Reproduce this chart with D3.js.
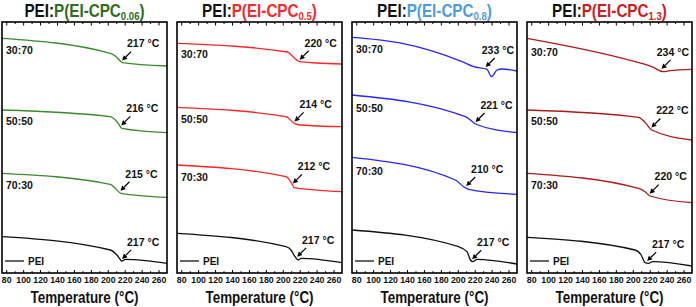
<!DOCTYPE html>
<html><head><meta charset="utf-8">
<script src="https://cdn.jsdelivr.net/npm/d3@7/dist/d3.min.js"></script>
<style>
body{margin:0;background:#fff}
text{font-family:"Liberation Sans",Arial,sans-serif;font-weight:bold}
</style>
</head><body>
<svg id="c" width="696" height="307"></svg>
<script>
// ---------- data ----------
const xTicks = [80,100,120,140,160,180,200,220,240,260];
const minorTicks = [90,110,130,150,170,190,210,230,250];
const samples = ["0.06","0.5","0.8","1.3"];
const ratios = ["30:70","50:50","70:30","PEI"];
const tgValues = [[217,216,215,217],[220,214,212,217],[233,221,210,217],[234,222,220,217]];
const curveColors = ["#3a8b2b","#ff2626","#2626ff","#ad1a1a"];
const titleColors = ["#2e6d1e","#f52a2a","#4d9be0","#cf1b22"];

// heat flow (a.u.) vs temperature (°C)
const p1_3070 = [[75,23.47],[203,21.97],[208.9,21.70],[214.8,21.20],[217.2,21.03],[270,20.70]];
const p1_5050 = [[75,16.30],[203,15.63],[210.9,15.13],[216.8,14.47],[270,14.03]];
const p1_7030 = [[75,9.97],[203,8.87],[208.9,8.47],[215.7,7.97],[270,7.57]];
const p1_pei  = [[75,3.63],[203,2.30],[210.9,1.80],[216.8,1.20],[220.7,1.37],[270,0.97]];

const p2_3070 = [[75,22.97],[205.7,22.10],[212.5,21.60],[219.6,21.13],[240.8,21.00],[270,20.90]];
const p2_5050 = [[75,16.57],[203.8,15.63],[213.6,14.97],[221.6,14.80],[270,14.63]];
const p2_7030 = [[75,10.80],[203.8,9.63],[210.5,8.97],[213.6,8.53],[270,8.13]];
const p2_pei  = [[75,3.97],[203.8,2.63],[209.7,2.30],[214.5,1.63],[218.4,1.30],[221.6,1.47],[270,1.03]];

const p3_3070 = [[75,23.57],[130.2,23.03],[205,21.13],[218.8,20.63],[234.6,20.37],[239.8,19.63],[246.4,20.30],[252.3,20.40],[270,20.20]];
const p3_5050 = [[75,17.80],[209,15.63],[218.8,15.03],[220.9,14.90],[270,14.03]];
const p3_7030 = [[75,11.57],[197.2,9.30],[207,8.63],[212.9,8.37],[270,7.87]];
const p3_pei  = [[75,4.30],[201.1,2.63],[210.9,2.13],[215,1.30],[217.7,1.13],[222.8,1.37],[270,0.90]];

const p4_3070 = [[75,23.47],[202.8,21.13],[222.5,20.63],[236.3,20.13],[244.1,20.23],[270,20.37]];
const p4_5050 = [[75,16.30],[206.8,15.57],[214.2,15.10],[222.5,14.30],[270,13.30]];
const p4_7030 = [[75,9.97],[206.8,8.47],[214.6,8.13],[220.5,7.70],[270,7.03]];
const p4_pei  = [[75,3.57],[202.8,2.30],[209.9,1.80],[214.6,1.03],[218.6,0.97],[223.3,1.13],[270,0.70]];

const curvesByPanel = [
  [p1_3070,p1_5050,p1_7030,p1_pei],
  [p2_3070,p2_5050,p2_7030,p2_pei],
  [p3_3070,p3_5050,p3_7030,p3_pei],
  [p4_3070,p4_5050,p4_7030,p4_pei]
];

// ---------- drawing ----------
const svg = d3.select("#c");
const W = 165, TOP = 22, BOT = 273;
const y = d3.scaleLinear().domain([0,25.1]).range([BOT,TOP]);
const bis = d3.bisector(d=>d[0]).left;
function valAt(c,t){
  let i = bis(c,t); if(i<=0) return c[0][1]; if(i>=c.length) return c[c.length-1][1];
  const a=c[i-1], b=c[i]; return a[1]+(b[1]-a[1])*(t-a[0])/(b[0]-a[0]);
}

samples.forEach((s,i)=>{
  const left = 2 + i*175;
  const x = d3.scaleLinear().domain([75,270]).range([left,left+W]);
  const g = svg.append("g");
  const line = d3.line().x(d=>x(d[0])).y(d=>y(d[1])).curve(d3.curveMonotoneX);

  curvesByPanel[i].forEach((c,j)=>{
    g.append("path").attr("d",line(c)).attr("fill","none")
      .attr("stroke", j<3?curveColors[i]:"#111").attr("stroke-width",1.3);
  });

  // axes (ticks inward)
  const bAx = g.append("g").attr("transform",`translate(0,${BOT})`)
    .call(d3.axisBottom(x).tickValues(xTicks).tickSizeInner(-3).tickSizeOuter(0).tickPadding(4));
  bAx.select(".domain").remove();
  bAx.selectAll("text").attr("font-size",8.8).attr("font-family",null).attr("fill","#111").attr("dy","0.72em");
  bAx.selectAll("line").attr("stroke","#000").attr("stroke-width",1);
  const bMin = g.append("g").attr("transform",`translate(0,${BOT})`)
    .call(d3.axisBottom(x).tickValues(minorTicks).tickSizeInner(-1.8).tickSizeOuter(0).tickFormat(""));
  bMin.select(".domain").remove();
  const tAx = g.append("g").attr("transform",`translate(0,${TOP})`)
    .call(d3.axisTop(x).tickValues(xTicks).tickSizeInner(-3.5).tickSizeOuter(0).tickFormat(""));
  tAx.select(".domain").remove();
  const tMin = g.append("g").attr("transform",`translate(0,${TOP})`)
    .call(d3.axisTop(x).tickValues(minorTicks).tickSizeInner(-2).tickSizeOuter(0).tickFormat(""));
  tMin.select(".domain").remove();

  g.append("rect").attr("x",left).attr("y",TOP).attr("width",W).attr("height",BOT-TOP)
    .attr("fill","none").attr("stroke","#000").attr("stroke-width",1.6);

  // ratio labels
  curvesByPanel[i].forEach((c,j)=>{
    if(j<3){
      g.append("text").attr("x",left+4).attr("y",y(valAt(c,95))+10).attr("dy","0.36em")
        .attr("font-size",10.5).attr("fill","#111").text(ratios[j]);
    }
    // Tg annotation
    const tg = tgValues[i][j];
    const hx = x(tg), hy = y(valAt(c,tg)) - 2;
    const tx = hx+9, ty = hy-9;
    const len = Math.hypot(tx-hx,ty-hy), ux=(hx-tx)/len, uy=(hy-ty)/len;
    const bx = hx-ux*5, by = hy-uy*5;
    g.append("line").attr("x1",tx).attr("y1",ty).attr("x2",bx).attr("y2",by).attr("stroke","#000").attr("stroke-width",1.2);
    g.append("path").attr("d",`M${hx},${hy}L${bx-uy*2.6},${by+ux*2.6}L${bx+uy*2.6},${by-ux*2.6}Z`).attr("fill","#000");
    const lab = g.append("text").attr("font-size",10.5).attr("fill","#111").attr("dy","0.36em")
      .attr("text-anchor","middle").text(tg+" °C");
    const tw = lab.node().getComputedTextLength();
    lab.attr("x", Math.min(hx+21, left+W-3-tw/2)).attr("y", hy-17);
  });

  // legend
  g.append("line").attr("x1",left+3).attr("x2",left+22).attr("y1",261).attr("y2",261).attr("stroke","#111").attr("stroke-width",1.3);
  g.append("text").attr("x",left+26).attr("y",261).attr("dy","0.36em").attr("font-size",10).attr("fill","#111").text("PEI");

  // title
  const cx = left + W/2;
  const t = g.append("text").attr("transform",`translate(${cx},17) scale(0.87,1)`)
    .attr("text-anchor","middle").attr("font-size",17.5);
  t.append("tspan").attr("fill","#111").text("PEI:");
  t.append("tspan").attr("fill",titleColors[i]).text("P(EI-CPC");
  t.append("tspan").attr("fill",titleColors[i]).attr("font-size",11).attr("dy",3).text(s);
  t.append("tspan").attr("fill",titleColors[i]).attr("dy",-3).text(")");

  // x title
  g.append("text").attr("transform",`translate(${cx},303) scale(0.84,1)`)
    .attr("text-anchor","middle").attr("font-size",16).attr("fill","#111").text("Temperature (°C)");
});
</script>
</body></html>
